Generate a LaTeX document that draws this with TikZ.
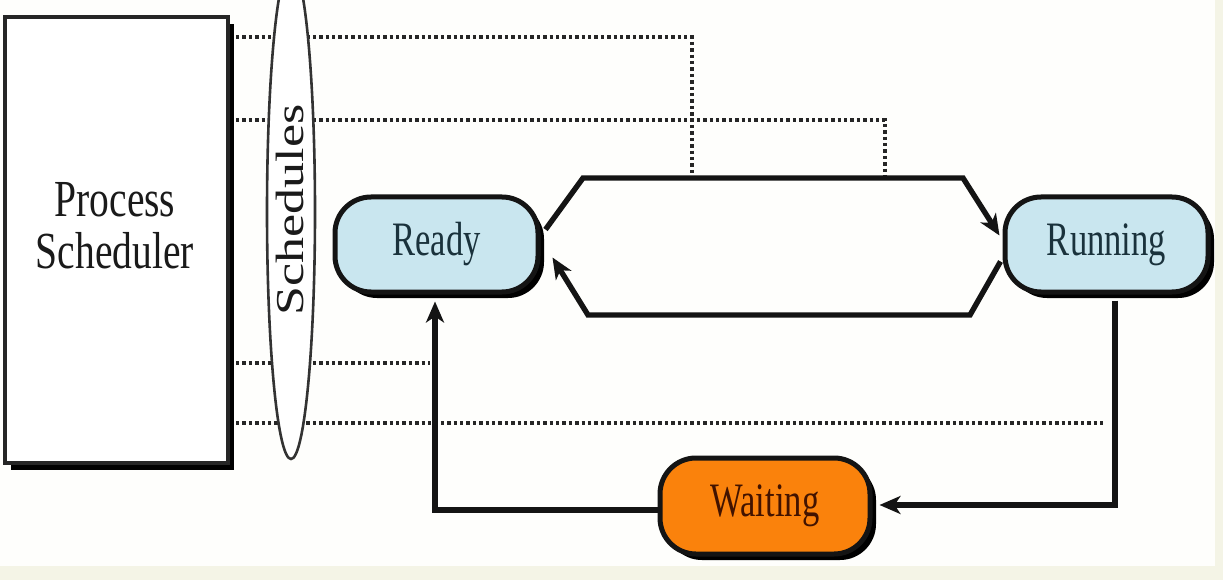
\documentclass[tikz,border=0pt]{standalone}
\usepackage{fontspec}
\setmainfont{Liberation Serif}
\usetikzlibrary{arrows.meta,shadows,calc}

\definecolor{paper}{HTML}{F4F4E6}
\definecolor{sheet}{HTML}{FEFEFC}
\definecolor{stateblue}{HTML}{C9E6EF}
\definecolor{stateorange}{HTML}{FA820C}
\definecolor{bluetext}{HTML}{1A323C}
\definecolor{browntext}{HTML}{421300}
\definecolor{inktext}{HTML}{1A1A1A}

\begin{document}
\begin{tikzpicture}[x=1pt,y=-1pt,
  hardshadow/.style={drop shadow={shadow xshift=6pt, shadow yshift=-6pt, fill=black, opacity=1}},
  statebox/.style={draw=black!92, line width=5pt, rounded corners=36pt,
    minimum width=203pt, minimum height=95pt, inner sep=0pt, hardshadow},
  statefont/.style={font=\fontsize{48}{50}\selectfont},
  flow/.style={draw=black!92, line width=5.4pt, line join=miter},
  flowarrow/.style={flow, -{Stealth[length=21pt,width=18pt,inset=6pt]}},
  signal/.style={draw=black!85, line width=3.6pt, dash pattern=on 3.4pt off 3pt},
]
\useasboundingbox (0,0) rectangle (1223,580);
\fill[paper] (0,0) rectangle (1223,580);
\fill[sheet] (0,0) rectangle (1215,566);

% scheduler box
\node[draw=black!85, line width=4.2pt, fill=white, minimum width=223pt, minimum height=446pt,
      inner sep=0pt, drop shadow={shadow xshift=6pt, shadow yshift=-7pt, fill=black, opacity=1}]
      (sched) at (116.5,240) {};
\node[align=center, text=inktext, font=\fontsize{52}{52}\selectfont] (schedtext) at (115,226)
      {\scalebox{0.76}[1]{Process}\\\scalebox{0.76}[1]{Scheduler}};

% control lines from the scheduler
\coordinate (s1) at (236,37);
\coordinate (s2) at (236,120);
\coordinate (s3) at (236,363);
\coordinate (s4) at (236,423);
\coordinate (t1) at (692,176);
\coordinate (t2) at (885,176);
\coordinate (t3) at (430,363);
\coordinate (t4) at (1103,423);
\draw[signal] (s1) -| (t1);
\draw[signal] (s2) -| (t2);
\draw[signal] (s3) -- (t3);
\draw[signal] (s4) -- (t4);

% schedules ellipse
\draw[draw=black!80, line width=2.6pt, fill=white] (291,212) ellipse [x radius=24, y radius=247];
\node[rotate=90, text=inktext, font=\fontsize{52}{52}\selectfont] (schedules) at (290,210)
      {\scalebox{1}[0.76]{Schedules}};

% states
\node[statebox, fill=stateblue, statefont, text=bluetext] (ready) at (436.5,244.5)
      {\scalebox{0.72}[1]{Ready}};
\node[statebox, fill=stateblue, statefont, text=bluetext] (running) at (1106.5,244.5)
      {\scalebox{0.72}[1]{Running}};
\node[statebox, fill=stateorange, statefont, text=browntext, minimum width=210pt, minimum height=96pt]
      (waiting) at (765,506) {\scalebox{0.72}[1]{Waiting}};

% transitions
\draw[flowarrow] ($(ready.east)+(5,-15)$) -- (583,178) -- (963,178) -- ($(running.west)+(-3,-9)$);
\draw[flowarrow] ($(running.west)+(-2,17)$) -- (970,315) -- (588,315) -- ($(ready.east)+(12,13)$);
\draw[flowarrow] ($(waiting.west)+(0,4)$) -| ($(ready.south)+(-1.5,7)$);
\draw[flowarrow] ($(running.south)+(8.5,6)$) |- ($(waiting.east)+(7,-1)$);
\end{tikzpicture}
\end{document}
